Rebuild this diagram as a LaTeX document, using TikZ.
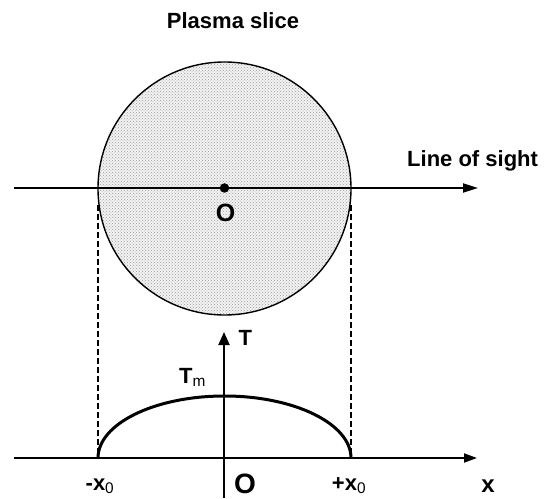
\documentclass[tikz,border=0pt]{standalone}
\usepackage{fontspec}
\setmainfont{Liberation Sans}
\usetikzlibrary{arrows.meta,patterns}

\begin{document}
\begin{tikzpicture}[
  x=1pt,y=1pt,
  lbl/.style={inner sep=0pt,font=\fontsize{22}{25}\selectfont\bfseries},
  axis/.style={line width=1.9pt,-{Triangle[length=13pt,width=9pt]}},
  guide/.style={line width=1.2pt,dash pattern=on 6pt off 3pt},
  profile/.style={line width=3pt},
  slice/.style={circle,draw,line width=1.4pt,minimum size=253pt,inner sep=0pt,
    preaction={fill=gray!10},pattern=crosshatch dots,pattern color=gray!75}
]
  \useasboundingbox (0,0) rectangle (548,498);

  % plasma slice and line of sight
  \node[slice] (plasma) at (224.5,309.5) {};
  \node[lbl,anchor=base] (title) at (233,469) {Plasma slice};
  \coordinate (losfrom) at (14,310);
  \coordinate (losto) at (478,310);
  \draw[axis,-{Triangle[length=15pt,width=9pt]}] (losfrom) -- (losto);
  \node[circle,fill,inner sep=0pt,minimum size=9.5pt] (centre) at (224.5,310) {};
  \node[lbl,anchor=base west] (sight) at (407,331) {Line of sight};
  \node[lbl,font=\fontsize{25}{28}\selectfont\bfseries,anchor=base] (o1) at (225.5,276) {O};

  % projection guides
  \coordinate (lefttop) at (98,293);
  \coordinate (leftfoot) at (98,40);
  \coordinate (righttop) at (351,293);
  \coordinate (rightfoot) at (351,40);
  \draw[guide] (lefttop) -- (leftfoot);
  \draw[guide] (righttop) -- (rightfoot);

  % temperature profile
  \coordinate (xfrom) at (14,40);
  \coordinate (xto) at (477,40);
  \coordinate (tfrom) at (224,0);
  \coordinate (tto) at (224,166);
  \draw[axis] (xfrom) -- (xto);
  \draw[axis,-{Triangle[length=13pt,width=11pt]}] (tfrom) -- (tto);
  \draw[profile] (leftfoot) arc[start angle=180,end angle=0,x radius=126.5,y radius=62];

  \node[lbl,anchor=base west] (tlbl) at (238.5,153) {T};
  \node[lbl,anchor=base west] (tmax) at (179,115) {T\textsubscript{\mdseries m}};
  \node[lbl,anchor=base] (xneg) at (100,8) {-x\textsubscript{\mdseries 0}};
  \node[lbl,anchor=base] (xpos) at (349,8) {+x\textsubscript{\mdseries 0}};
  \node[lbl,font=\fontsize{28}{30}\selectfont\bfseries,anchor=base] (o2) at (245,5) {O};
  \node[lbl,font=\fontsize{24}{26}\selectfont\bfseries,anchor=base] (xlbl) at (488,6) {x};
\end{tikzpicture}
\end{document}
